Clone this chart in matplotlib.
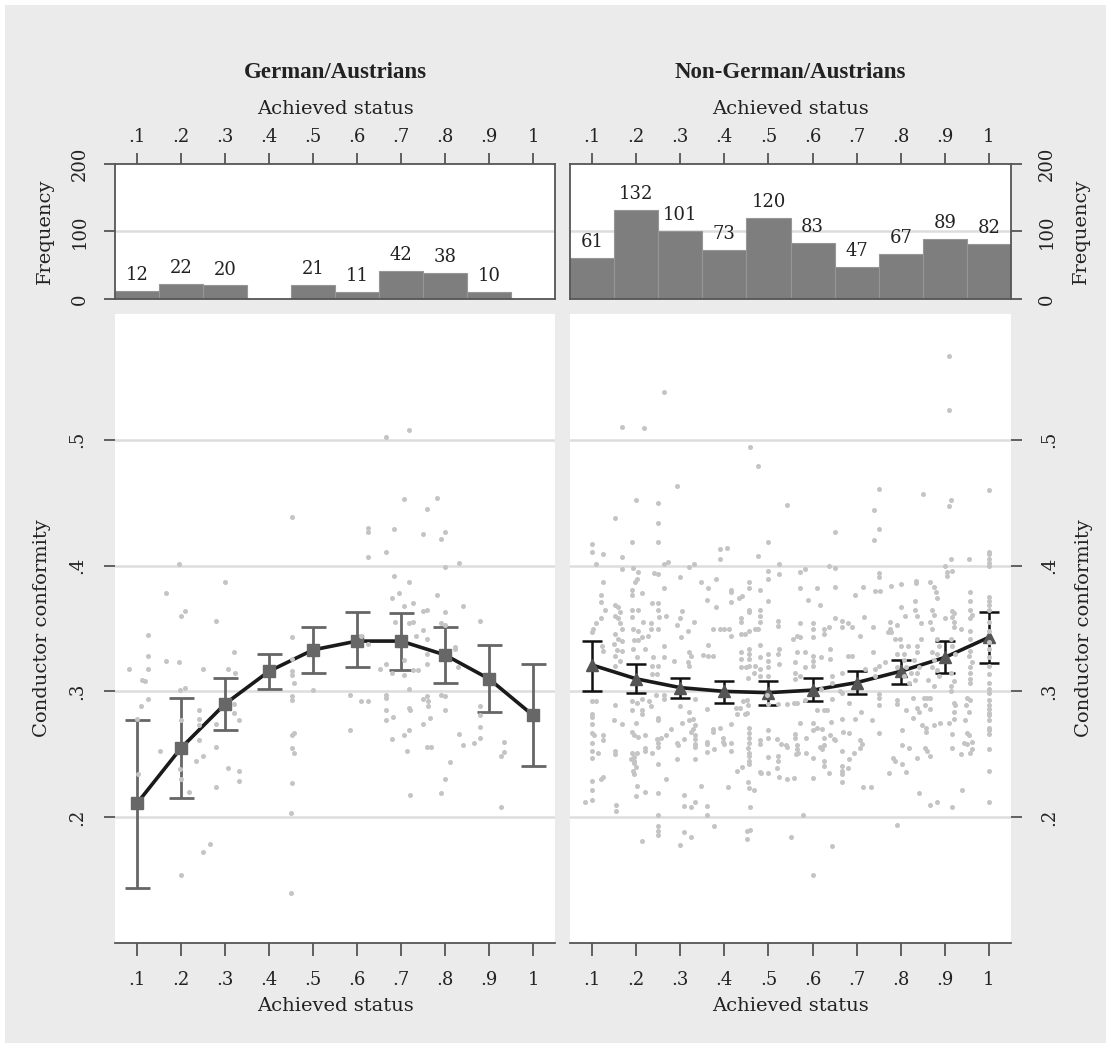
import numpy as np
import matplotlib
matplotlib.use("Agg")
import matplotlib.pyplot as plt
from matplotlib.patches import Rectangle

# achieved status categories (bin centres)
status = [0.1, 0.2, 0.3, 0.4, 0.5, 0.6, 0.7, 0.8, 0.9, 1.0]
status_labels = [".1", ".2", ".3", ".4", ".5", ".6", ".7", ".8", ".9", "1"]

# histogram counts
ger_freq = [12, 22, 20, 0, 21, 11, 42, 38, 10, 0]
non_freq = [61, 132, 101, 73, 120, 83, 47, 67, 89, 82]

# predicted conductor conformity with confidence intervals
ger_fit = [0.211, 0.255, 0.290, 0.316, 0.333, 0.340, 0.340, 0.329, 0.310, 0.281]
ger_lo = [0.144, 0.215, 0.269, 0.302, 0.315, 0.319, 0.317, 0.307, 0.284, 0.241]
ger_hi = [0.277, 0.295, 0.311, 0.330, 0.351, 0.363, 0.362, 0.351, 0.337, 0.322]

non_fit = [0.321, 0.310, 0.303, 0.300, 0.299, 0.301, 0.307, 0.316, 0.327, 0.343]
non_lo = [0.300, 0.299, 0.295, 0.291, 0.289, 0.292, 0.298, 0.306, 0.315, 0.3225]
non_hi = [0.340, 0.322, 0.311, 0.308, 0.308, 0.311, 0.316, 0.325, 0.340, 0.363]

conf_ticks = [0.2, 0.3, 0.4, 0.5]
conf_labels = [".2", ".3", ".4", ".5"]

ger_points = [
    (0.667, 0.5025), (0.719, 0.508), (0.707, 0.453), (0.781, 0.454), (0.759, 0.445), (0.453, 0.439),
    (0.624, 0.430), (0.624, 0.427), (0.683, 0.429), (0.749, 0.425), (0.799, 0.427), (0.791, 0.421),
    (0.624, 0.407), (0.667, 0.411), (0.195, 0.401), (0.799, 0.399), (0.832, 0.402), (0.683, 0.392),
    (0.719, 0.387), (0.299, 0.387), (0.165, 0.378), (0.781, 0.377), (0.696, 0.378), (0.680, 0.374),
    (0.707, 0.368), (0.727, 0.370), (0.749, 0.364), (0.760, 0.365), (0.840, 0.368), (0.208, 0.364),
    (0.199, 0.360), (0.279, 0.356), (0.799, 0.363), (0.880, 0.356), (0.686, 0.355), (0.719, 0.354),
    (0.727, 0.355), (0.791, 0.354), (0.799, 0.353), (0.749, 0.349), (0.124, 0.345), (0.453, 0.343),
    (0.733, 0.344), (0.760, 0.342), (0.610, 0.344), (0.823, 0.335),
    (0.082, 0.318), (0.125, 0.328), (0.125, 0.318), (0.111, 0.309), (0.118, 0.308), (0.125, 0.294),
    (0.109, 0.288), (0.101, 0.278), (0.152, 0.253), (0.102, 0.234), (0.165, 0.324), (0.195, 0.323),
    (0.197, 0.301), (0.208, 0.303), (0.199, 0.277), (0.197, 0.238), (0.199, 0.230), (0.218, 0.220),
    (0.249, 0.318), (0.240, 0.285), (0.240, 0.278), (0.240, 0.273), (0.240, 0.261), (0.249, 0.249),
    (0.233, 0.245), (0.280, 0.256), (0.279, 0.224), (0.279, 0.274), (0.249, 0.172), (0.266, 0.179),
    (0.199, 0.154), (0.320, 0.331), (0.307, 0.318), (0.323, 0.315), (0.320, 0.290), (0.320, 0.283),
    (0.332, 0.277), (0.307, 0.239), (0.332, 0.237), (0.332, 0.229), (0.453, 0.316), (0.453, 0.313),
    (0.457, 0.307), (0.453, 0.326), (0.453, 0.296), (0.453, 0.293), (0.457, 0.267), (0.453, 0.265),
    (0.453, 0.255), (0.457, 0.251), (0.453, 0.227), (0.449, 0.203), (0.449, 0.140), (0.499, 0.301),
    (0.583, 0.297), (0.583, 0.269), (0.608, 0.292), (0.624, 0.292), (0.624, 0.338), (0.652, 0.318),
    (0.667, 0.322), (0.680, 0.315), (0.667, 0.297), (0.667, 0.295), (0.667, 0.285), (0.682, 0.280),
    (0.667, 0.277), (0.680, 0.262), (0.707, 0.325), (0.707, 0.313), (0.719, 0.302), (0.727, 0.317),
    (0.738, 0.317), (0.719, 0.287), (0.721, 0.285), (0.719, 0.269), (0.707, 0.265), (0.713, 0.253),
    (0.721, 0.218), (0.760, 0.330), (0.760, 0.322), (0.749, 0.294), (0.760, 0.296), (0.762, 0.292),
    (0.762, 0.288), (0.765, 0.279), (0.749, 0.274), (0.760, 0.256), (0.769, 0.256), (0.790, 0.297),
    (0.799, 0.296), (0.799, 0.285), (0.812, 0.244), (0.799, 0.230), (0.791, 0.219), (0.823, 0.334),
    (0.830, 0.319), (0.832, 0.266), (0.840, 0.257), (0.866, 0.259), (0.880, 0.288), (0.880, 0.281),
    (0.880, 0.272), (0.880, 0.263), (0.933, 0.260), (0.933, 0.252), (0.928, 0.249), (0.928, 0.208),
]

non_points = [
    # upper part
    (0.909, 0.567), (0.909, 0.524), (0.263, 0.538), (0.167, 0.510), (0.218, 0.509), (0.459, 0.494),
    (0.477, 0.479), (0.292, 0.463), (0.751, 0.461), (0.851, 0.457), (1.000, 0.460), (0.199, 0.452),
    (0.249, 0.450), (0.914, 0.452), (0.909, 0.447), (0.542, 0.448), (0.739, 0.444), (0.152, 0.438),
    (0.249, 0.434), (0.751, 0.429), (0.652, 0.427), (0.190, 0.419), (0.249, 0.419), (0.739, 0.420),
    (0.500, 0.419),
    # left half, .30 - .42
    (0.100, 0.417), (0.100, 0.411), (0.110, 0.401), (0.125, 0.409), (0.167, 0.407), (0.167, 0.397),
    (0.193, 0.398), (0.205, 0.395), (0.201, 0.389), (0.197, 0.387), (0.125, 0.387), (0.120, 0.377),
    (0.120, 0.371), (0.129, 0.365), (0.120, 0.358), (0.110, 0.354), (0.102, 0.350), (0.100, 0.347),
    (0.123, 0.336), (0.125, 0.332), (0.152, 0.369), (0.158, 0.367), (0.163, 0.363), (0.152, 0.360),
    (0.158, 0.358), (0.163, 0.354), (0.167, 0.350), (0.152, 0.346), (0.158, 0.342), (0.150, 0.338),
    (0.156, 0.333), (0.152, 0.328), (0.163, 0.324), (0.152, 0.320), (0.167, 0.340), (0.167, 0.332),
    (0.190, 0.381), (0.190, 0.377), (0.214, 0.378), (0.190, 0.365), (0.205, 0.365), (0.190, 0.359),
    (0.193, 0.350), (0.205, 0.348), (0.216, 0.355), (0.195, 0.341), (0.205, 0.341), (0.193, 0.334),
    (0.201, 0.327), (0.214, 0.343), (0.226, 0.344), (0.220, 0.334), (0.233, 0.354), (0.234, 0.350),
    (0.237, 0.370), (0.249, 0.370), (0.249, 0.365), (0.252, 0.359), (0.249, 0.350), (0.241, 0.394),
    (0.250, 0.393), (0.264, 0.382), (0.264, 0.401), (0.273, 0.403), (0.267, 0.360), (0.264, 0.336),
    (0.264, 0.327), (0.239, 0.327), (0.237, 0.320), (0.249, 0.320), (0.237, 0.314), (0.247, 0.314),
    (0.292, 0.353), (0.299, 0.358), (0.305, 0.364), (0.302, 0.343), (0.285, 0.324), (0.300, 0.391),
    (0.319, 0.399), (0.332, 0.401), (0.317, 0.348), (0.332, 0.355), (0.319, 0.331), (0.324, 0.328),
    (0.318, 0.323), (0.320, 0.320), (0.347, 0.387), (0.362, 0.382), (0.361, 0.373), (0.381, 0.389),
    (0.381, 0.367), (0.362, 0.337), (0.351, 0.329), (0.362, 0.328), (0.374, 0.328), (0.375, 0.350),
    (0.391, 0.350), (0.400, 0.350), (0.410, 0.350), (0.415, 0.344), (0.415, 0.381), (0.415, 0.379),
    (0.415, 0.371), (0.434, 0.374), (0.440, 0.376), (0.437, 0.358), (0.437, 0.355), (0.446, 0.346),
    (0.438, 0.346), (0.457, 0.387), (0.457, 0.382), (0.456, 0.365), (0.457, 0.363), (0.457, 0.348),
    (0.457, 0.334), (0.457, 0.330), (0.457, 0.326), (0.457, 0.320), (0.438, 0.331), (0.438, 0.326),
    (0.438, 0.319), (0.450, 0.319), (0.391, 0.413), (0.407, 0.414), (0.391, 0.405), (0.476, 0.408),
    (0.524, 0.401), (0.500, 0.396), (0.524, 0.393), (0.500, 0.389), (0.480, 0.381), (0.500, 0.372),
    (0.480, 0.365), (0.480, 0.360), (0.480, 0.355), (0.470, 0.350), (0.477, 0.350), (0.522, 0.356),
    (0.522, 0.352), (0.480, 0.337), (0.499, 0.330), (0.499, 0.324), (0.499, 0.319), (0.499, 0.312),
    (0.525, 0.334), (0.522, 0.330), (0.524, 0.322), (0.480, 0.327), (0.480, 0.318), (0.480, 0.312),
    (0.468, 0.315), (0.453, 0.311), (0.469, 0.320),
    # right half, .30 - .42
    (0.572, 0.395), (0.583, 0.397), (0.638, 0.400), (0.651, 0.398), (0.750, 0.394), (0.750, 0.391),
    (0.572, 0.382), (0.610, 0.382), (0.590, 0.373), (0.616, 0.369), (0.651, 0.383), (0.697, 0.377),
    (0.714, 0.383), (0.741, 0.380), (0.752, 0.380), (0.778, 0.384), (0.801, 0.385), (0.835, 0.388),
    (0.835, 0.386), (0.866, 0.387), (0.875, 0.383), (0.880, 0.379), (0.883, 0.374), (0.901, 0.400),
    (0.914, 0.405), (0.917, 0.396), (0.905, 0.395), (0.904, 0.392), (0.954, 0.405),
    (1.000, 0.411), (1.000, 0.409), (1.000, 0.405), (1.000, 0.402), (1.000, 0.400), (1.000, 0.375),
    (1.000, 0.372), (1.000, 0.369), (1.000, 0.365), (1.000, 0.355), (1.000, 0.348), (1.000, 0.339),
    (1.000, 0.334), (1.000, 0.327), (1.000, 0.320), (1.000, 0.314), (1.000, 0.307), (1.000, 0.302),
    (0.958, 0.379), (0.958, 0.372), (0.958, 0.365), (0.962, 0.361), (0.958, 0.358), (0.958, 0.348),
    (0.958, 0.342), (0.958, 0.332), (0.955, 0.328), (0.962, 0.323), (0.958, 0.319), (0.958, 0.315),
    (0.957, 0.310), (0.958, 0.307), (0.937, 0.350), (0.917, 0.364), (0.921, 0.362), (0.917, 0.359),
    (0.921, 0.355), (0.921, 0.351), (0.901, 0.358), (0.913, 0.342), (0.917, 0.336), (0.924, 0.330),
    (0.913, 0.315), (0.920, 0.308), (0.913, 0.304), (0.913, 0.300),
    (0.871, 0.365), (0.875, 0.361), (0.867, 0.355), (0.871, 0.350), (0.883, 0.342), (0.886, 0.336),
    (0.871, 0.331), (0.883, 0.330), (0.875, 0.325), (0.871, 0.319), (0.883, 0.317), (0.886, 0.312),
    (0.861, 0.309), (0.876, 0.304), (0.833, 0.372), (0.833, 0.365), (0.837, 0.360), (0.845, 0.354),
    (0.845, 0.342), (0.836, 0.336), (0.836, 0.331), (0.830, 0.325), (0.841, 0.319), (0.837, 0.315),
    (0.833, 0.309), (0.801, 0.367), (0.810, 0.360), (0.776, 0.355), (0.776, 0.350), (0.792, 0.353),
    (0.770, 0.347), (0.778, 0.347), (0.798, 0.342), (0.786, 0.342), (0.817, 0.336), (0.801, 0.336),
    (0.792, 0.330), (0.808, 0.330), (0.808, 0.325), (0.792, 0.319), (0.811, 0.319), (0.808, 0.312),
    (0.823, 0.315), (0.819, 0.307), (0.716, 0.359), (0.738, 0.351), (0.708, 0.344), (0.681, 0.354),
    (0.689, 0.351), (0.666, 0.356), (0.666, 0.351), (0.651, 0.358), (0.638, 0.351), (0.625, 0.350),
    (0.625, 0.346), (0.600, 0.354), (0.600, 0.350), (0.600, 0.343), (0.572, 0.354), (0.564, 0.344),
    (0.572, 0.343), (0.556, 0.342), (0.564, 0.331), (0.583, 0.331), (0.602, 0.328), (0.602, 0.324),
    (0.602, 0.320), (0.620, 0.327), (0.640, 0.334), (0.640, 0.326), (0.681, 0.328), (0.689, 0.328),
    (0.718, 0.318), (0.738, 0.331), (0.742, 0.318), (0.750, 0.320), (0.765, 0.323), (0.742, 0.312),
    (0.666, 0.315), (0.643, 0.312), (0.643, 0.307), (0.560, 0.323), (0.560, 0.315), (0.560, 0.310),
    (0.583, 0.319), (0.572, 0.312), (0.662, 0.300), (0.620, 0.302),
    # left half, below .30
    (0.101, 0.292), (0.110, 0.292), (0.099, 0.282), (0.099, 0.280), (0.099, 0.274), (0.101, 0.267),
    (0.104, 0.265), (0.099, 0.259), (0.099, 0.253), (0.099, 0.247), (0.114, 0.251), (0.125, 0.265),
    (0.125, 0.261), (0.101, 0.229), (0.101, 0.222), (0.101, 0.214), (0.083, 0.212), (0.120, 0.230),
    (0.125, 0.232), (0.151, 0.289), (0.150, 0.277), (0.167, 0.274), (0.151, 0.253), (0.151, 0.250),
    (0.154, 0.210), (0.154, 0.205), (0.190, 0.292), (0.201, 0.291), (0.214, 0.294), (0.190, 0.285),
    (0.199, 0.275), (0.190, 0.268), (0.195, 0.265), (0.205, 0.264), (0.219, 0.265), (0.190, 0.251),
    (0.195, 0.248), (0.201, 0.251), (0.188, 0.246), (0.195, 0.245), (0.195, 0.243), (0.199, 0.240),
    (0.193, 0.237), (0.195, 0.234), (0.201, 0.225), (0.199, 0.217), (0.220, 0.220), (0.219, 0.255),
    (0.219, 0.253), (0.213, 0.285), (0.214, 0.282), (0.230, 0.292), (0.234, 0.288), (0.250, 0.279),
    (0.250, 0.277), (0.245, 0.297), (0.264, 0.297), (0.264, 0.294), (0.247, 0.262), (0.250, 0.259),
    (0.250, 0.256), (0.256, 0.263), (0.268, 0.265), (0.237, 0.251), (0.250, 0.242), (0.267, 0.230),
    (0.250, 0.219), (0.250, 0.202), (0.249, 0.193), (0.250, 0.189), (0.250, 0.186), (0.213, 0.181),
    (0.280, 0.270), (0.292, 0.259), (0.294, 0.257), (0.292, 0.246), (0.300, 0.288), (0.305, 0.275),
    (0.309, 0.262), (0.309, 0.218), (0.309, 0.209), (0.324, 0.208), (0.333, 0.212), (0.319, 0.284),
    (0.320, 0.277), (0.328, 0.278), (0.324, 0.268), (0.330, 0.270), (0.333, 0.273), (0.333, 0.294),
    (0.333, 0.265), (0.333, 0.262), (0.333, 0.258), (0.334, 0.256), (0.333, 0.246), (0.361, 0.286),
    (0.347, 0.225), (0.361, 0.260), (0.361, 0.258), (0.361, 0.252), (0.361, 0.209), (0.361, 0.202),
    (0.375, 0.270), (0.375, 0.268), (0.377, 0.254), (0.390, 0.271), (0.376, 0.193), (0.398, 0.263),
    (0.398, 0.260), (0.400, 0.258), (0.414, 0.274), (0.414, 0.259), (0.414, 0.253), (0.409, 0.224),
    (0.427, 0.287), (0.436, 0.287), (0.443, 0.292), (0.451, 0.293), (0.454, 0.289), (0.451, 0.283),
    (0.428, 0.282), (0.447, 0.282), (0.457, 0.271), (0.457, 0.267), (0.457, 0.263), (0.457, 0.259),
    (0.453, 0.255), (0.457, 0.251), (0.457, 0.249), (0.457, 0.245), (0.457, 0.242), (0.453, 0.228),
    (0.457, 0.223), (0.467, 0.222), (0.428, 0.237), (0.440, 0.240), (0.459, 0.208), (0.452, 0.189),
    (0.459, 0.190), (0.452, 0.183), (0.480, 0.261), (0.480, 0.258), (0.500, 0.269), (0.500, 0.263),
    (0.480, 0.236), (0.484, 0.235), (0.500, 0.248), (0.500, 0.235), (0.521, 0.249), (0.521, 0.245),
    (0.520, 0.239), (0.524, 0.232), (0.520, 0.262), (0.529, 0.258), (0.540, 0.257), (0.543, 0.256),
    (0.543, 0.230), (0.500, 0.290), (0.521, 0.290), (0.543, 0.290), (0.497, 0.297),
    (0.299, 0.178), (0.308, 0.188), (0.324, 0.184),
    # right half, below .30
    (0.550, 0.184), (0.644, 0.177), (0.600, 0.154), (0.792, 0.194), (0.579, 0.202),
    (0.557, 0.291), (0.564, 0.291), (0.583, 0.293), (0.572, 0.275), (0.602, 0.275), (0.602, 0.269),
    (0.610, 0.271), (0.621, 0.270), (0.610, 0.285), (0.625, 0.285), (0.632, 0.285), (0.644, 0.294),
    (0.667, 0.299), (0.682, 0.291), (0.642, 0.276), (0.667, 0.278), (0.697, 0.278), (0.710, 0.284),
    (0.735, 0.277), (0.750, 0.298), (0.750, 0.295), (0.750, 0.289), (0.792, 0.293), (0.792, 0.290),
    (0.811, 0.285), (0.828, 0.295), (0.836, 0.287), (0.841, 0.284), (0.852, 0.295), (0.860, 0.295),
    (0.866, 0.295), (0.856, 0.289), (0.867, 0.286), (0.828, 0.279), (0.849, 0.273), (0.858, 0.271),
    (0.858, 0.268), (0.875, 0.273), (0.889, 0.275), (0.909, 0.275), (0.921, 0.278), (0.921, 0.291),
    (0.924, 0.289), (0.921, 0.284), (0.947, 0.289), (0.955, 0.284), (0.958, 0.293), (0.951, 0.295),
    (0.945, 0.277), (0.917, 0.266), (0.917, 0.255), (0.951, 0.267), (0.955, 0.265), (0.943, 0.259),
    (0.951, 0.258), (0.962, 0.260), (0.962, 0.254), (0.958, 0.251), (0.936, 0.250),
    (1.000, 0.299), (1.000, 0.293), (1.000, 0.289), (1.000, 0.286), (1.000, 0.283), (1.000, 0.281),
    (1.000, 0.277), (1.000, 0.271), (1.000, 0.269), (1.000, 0.266), (1.000, 0.254), (1.000, 0.237),
    (1.000, 0.212), (0.938, 0.222), (0.917, 0.208), (0.867, 0.210), (0.883, 0.212), (0.841, 0.219),
    (0.856, 0.255), (0.860, 0.253), (0.867, 0.249), (0.836, 0.247), (0.818, 0.255), (0.802, 0.269),
    (0.802, 0.257), (0.783, 0.247), (0.788, 0.245), (0.802, 0.242), (0.813, 0.236), (0.773, 0.235),
    (0.750, 0.267), (0.733, 0.224), (0.714, 0.224), (0.707, 0.261), (0.712, 0.258), (0.708, 0.255),
    (0.693, 0.251), (0.682, 0.246), (0.680, 0.239), (0.668, 0.268), (0.682, 0.267), (0.667, 0.253),
    (0.667, 0.241), (0.667, 0.237), (0.667, 0.234), (0.667, 0.228), (0.640, 0.265), (0.648, 0.262),
    (0.651, 0.261), (0.625, 0.263), (0.625, 0.257), (0.621, 0.254), (0.617, 0.256), (0.625, 0.245),
    (0.625, 0.241), (0.638, 0.235), (0.601, 0.247), (0.601, 0.231), (0.585, 0.263), (0.585, 0.251),
    (0.560, 0.266), (0.560, 0.263), (0.564, 0.257), (0.564, 0.254), (0.568, 0.251), (0.563, 0.250),
    (0.557, 0.231),
]

BG = "#ebebeb"
AXC = "#555555"
GRID = "#dddddd"
DOTS = "#c4c4c4"

plt.rcParams['font.family'] = 'DejaVu Serif'
plt.rcParams['text.color'] = '#222222'
plt.rcParams['axes.labelcolor'] = '#222222'
plt.rcParams['xtick.color'] = AXC
plt.rcParams['ytick.color'] = AXC
plt.rcParams['xtick.labelcolor'] = '#222222'
plt.rcParams['ytick.labelcolor'] = '#222222'

W, H = 1111, 1048
fig = plt.figure(figsize=(W / 100, H / 100), dpi=100)
fig.patch.set_facecolor('white')
fig.patches.append(Rectangle((5 / W, 5 / H), 1 - 10 / W, 1 - 10 / H, transform=fig.transFigure,
                             facecolor=BG, edgecolor='none', zorder=-10))


def fx(px):
    return px / W


def fy(py):
    return 1 - py / H


def draw_panel(x0, x1, title, freq, points, fit, lo, hi, side, marker, mcolor, ecolor, elw, cap):
    # histogram on top
    axh = fig.add_axes([fx(x0), fy(299), fx(x1 - x0), (299 - 164) / H])
    axh.set_facecolor('white')
    xs = [s for s, f in zip(status, freq) if f > 0]
    fs = [f for f in freq if f > 0]
    axh.bar(xs, fs, width=0.1, color='#7e7e7e', edgecolor='#969696', linewidth=0.8, zorder=2)
    for s, f in zip(xs, fs):
        axh.annotate(str(f), (s, f), xytext=(0, 5), textcoords='offset points',
                     ha='center', va='bottom', fontsize=13)
    axh.axhline(100, color=GRID, lw=1.8, zorder=1)
    axh.set_xlim(0.05, 1.05)
    axh.set_ylim(0, 200)
    axh.xaxis.tick_top()
    axh.xaxis.set_label_position('top')
    axh.set_xticks(status, status_labels, fontsize=13)
    axh.set_xlabel('Achieved status', fontsize=14, labelpad=10)
    axh.tick_params(axis='x', direction='out', length=8, width=1.3, pad=5)
    if side == 'right':
        axh.yaxis.tick_right()
        axh.yaxis.set_label_position('right')
        axh.set_yticks([0, 100, 200], ['0', '100', '200'], rotation=90, va='center', ha='left', fontsize=13)
    else:
        axh.set_yticks([0, 100, 200], ['0', '100', '200'], rotation=90, va='center', ha='right', fontsize=13)
    axh.tick_params(axis='y', direction='out', length=8, width=1.3, pad=11)
    axh.set_ylabel('Frequency', fontsize=14, labelpad=12)
    for sp in axh.spines.values():
        sp.set_color(AXC)
        sp.set_linewidth(1.3)
    fig.text(fx((x0 + x1) / 2), fy(72), title, ha='center', va='center',
             fontsize=16.5, fontweight='bold', family='Liberation Serif')

    # scatter with predicted values
    ax = fig.add_axes([fx(x0), fy(943), fx(x1 - x0), (943 - 314) / H])
    ax.set_facecolor('white')
    ax.set_xlim(0.05, 1.05)
    ax.set_ylim(0.1, 0.6)
    for t in conf_ticks:
        ax.axhline(t, color=GRID, lw=1.8, zorder=1)
    pts = np.array(points)
    ax.errorbar(status, fit, yerr=[np.array(fit) - np.array(lo), np.array(hi) - np.array(fit)],
                fmt='none', ecolor=ecolor, elinewidth=elw, capsize=cap, capthick=elw, zorder=3)
    ax.plot(status, fit, color='#1a1a1a', lw=2.6, zorder=4)
    ax.plot(status, fit, linestyle='none', marker=marker, markersize=9, color=mcolor, zorder=4)
    ax.scatter(pts[:, 0], pts[:, 1], s=13, color=DOTS, linewidths=0, zorder=5)
    for name in ['top', 'left', 'right']:
        ax.spines[name].set_visible(False)
    ax.spines['bottom'].set_color(AXC)
    ax.spines['bottom'].set_linewidth(1.3)
    ax.set_xticks(status, status_labels, fontsize=13)
    ax.tick_params(axis='x', direction='out', length=9, width=1.3, pad=11)
    ax.set_xlabel('Achieved status', fontsize=14, labelpad=6)
    if side == 'right':
        ax.yaxis.tick_right()
        ax.yaxis.set_label_position('right')
        ax.set_yticks(conf_ticks, conf_labels, rotation=90, va='center', ha='left', fontsize=13)
    else:
        ax.set_yticks(conf_ticks, conf_labels, rotation=90, va='center', ha='right', fontsize=13)
    ax.tick_params(axis='y', direction='out', length=8, width=1.3, pad=13)
    ax.set_ylabel('Conductor conformity', fontsize=14, labelpad=12)


draw_panel(115, 555, 'German/Austrians', ger_freq, ger_points, ger_fit, ger_lo, ger_hi,
           'left', 's', '#676767', '#666666', 2.0, 9)
draw_panel(570, 1011, 'Non-German/Austrians', non_freq, non_points, non_fit, non_lo, non_hi,
           'right', '^', '#555555', '#111111', 1.8, 7)

fig.savefig('out.png', dpi=100, facecolor=fig.get_facecolor())
